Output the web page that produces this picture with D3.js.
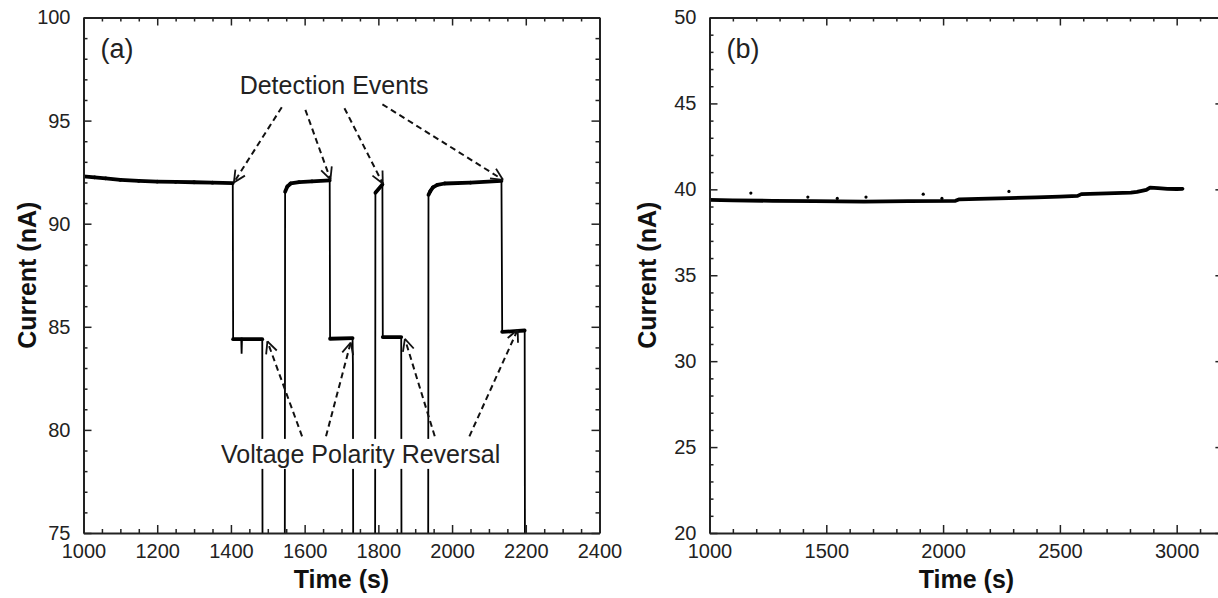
<!DOCTYPE html>
<html>
<head>
<meta charset="utf-8">
<script src="https://cdn.jsdelivr.net/npm/d3@7"></script>
<style>
  body { margin: 0; background: #fff; }
  svg { display: block; font-family: 'Liberation Sans', Arial, sans-serif; }
  .axis path { stroke: #222; stroke-width: 2; }
  .axis line { stroke: #222; stroke-width: 1.5; }
  .axis text { font-size: 20px; fill: #222; font-family: 'Liberation Sans', Arial, sans-serif; }
  .title { font-size: 25px; font-weight: bold; fill: #111; }
  .note { font-size: 25px; fill: #222; }
</style>
</head>
<body>
<svg id="fig" width="1218" height="598"></svg>
<script>
// panel (a): [time (s), current (nA)], 70 = trace runs off the bottom
var traceA = [
  [1000, 92.30], [1030, 92.25], [1060, 92.20], [1100, 92.13], [1150, 92.08],
  [1200, 92.04], [1250, 92.03], [1300, 92.01], [1350, 91.99], [1405, 91.97],
  [1406, 84.40], [1428, 84.40], [1429, 83.70], [1430, 84.40], [1485, 84.40], [1486, 70],
  [1546, 70], [1547, 91.55], [1553, 91.80], [1562, 91.95], [1585, 92.02], [1620, 92.05], [1668, 92.10],
  [1669, 84.42], [1730, 84.45], [1731, 83.20], [1732, 70],
  [1791, 70], [1792, 91.50], [1811, 91.90],
  [1812, 84.50], [1862, 84.50], [1863, 70],
  [1935, 70], [1936, 91.40], [1941, 91.58], [1948, 91.76], [1960, 91.88], [1980, 91.95],
  [2050, 91.99], [2134, 92.08],
  [2136, 84.75], [2197, 84.82], [2198, 70]
];

// panel (b)
var traceB = [
  [1000, 39.39], [1100, 39.36], [1270, 39.33], [1450, 39.31], [1661, 39.29],
  [1850, 39.31], [2053, 39.33], [2070, 39.42], [2150, 39.45], [2282, 39.49],
  [2400, 39.53], [2500, 39.57], [2576, 39.62], [2592, 39.72], [2700, 39.76],
  [2804, 39.81], [2830, 39.85], [2870, 39.97], [2886, 40.10], [2920, 40.07],
  [2960, 40.03], [3000, 40.02], [3025, 40.03]
];
var spotsB = [[1177, 39.78], [1421, 39.55], [1547, 39.47], [1670, 39.55],
  [1915, 39.72], [1995, 39.47], [2282, 39.88]];

// annotation arrows, [time, current] of tail and tip
var detectArrows = [
  {from: [1538, 95.65], to: [1408, 92.00]},
  {from: [1602, 95.52], to: [1670, 92.15]},
  {from: [1708, 95.60], to: [1812, 91.95]},
  {from: [1811, 95.79], to: [2138, 92.13]}
];
var reverseArrows = [
  {from: [1593, 79.69], to: [1499, 84.29]},
  {from: [1658, 79.69], to: [1725, 84.24]},
  {from: [1953, 79.69], to: [1872, 84.41]},
  {from: [2047, 79.69], to: [2178, 84.86]}
];
var detectLabel = {text: 'Detection Events', at: [1680, 96.28]};
var reverseLabel = {text: 'Voltage Polarity Reversal', at: [1752, 78.4]};

var xTicksA = [1000, 1200, 1400, 1600, 1800, 2000, 2200, 2400];
var yTicksA = [75, 80, 85, 90, 95, 100];
var xTicksB = [1000, 1500, 2000, 2500, 3000];
var yTicksB = [20, 25, 30, 35, 40, 45, 50];

var figure = {
  svg: d3.select('#fig'),

  init: function() {
    var self = this;

    var a = self.panel({
      id: 'a', left: 83.5, right: 599.5, top: 17.5, bottom: 533,
      xDomain: [1000, 2400], yDomain: [75, 100],
      xTicks: xTicksA, yTicks: yTicksA, xMinor: 50, yMinor: 1,
      ytitleX: 36
    });
    self.drawTraceA(a);
    self.drawNotes(a);

    var b = self.panel({
      id: 'b', left: 709.5, right: 1223.4, top: 17.5, bottom: 533,
      xDomain: [1000, 3200], yDomain: [20, 50],
      xTicks: xTicksB, yTicks: yTicksB, xMinor: 100, yMinor: 1,
      ytitleX: 656
    });
    self.drawTraceB(b);
  },

  panel: function(o) {
    var self = this;
    var w = o.right - o.left, h = o.bottom - o.top;
    var x = d3.scaleLinear().domain(o.xDomain).range([0, w]);
    var y = d3.scaleLinear().domain(o.yDomain).range([h, 0]);

    var g = self.svg.append('g')
        .attr('transform', 'translate(' + o.left + ',' + o.top + ')');

    g.append('clipPath').attr('id', 'clip-' + o.id)
      .append('rect').attr('width', w).attr('height', h);

    var plot = g.append('g').attr('clip-path', 'url(#clip-' + o.id + ')');
    var over = g.append('g');
    var axes = g.append('g');

    var xMinor = d3.range(o.xDomain[0], o.xDomain[1] + 1e-6, o.xMinor)
        .filter(function(v) { return o.xTicks.indexOf(v) < 0; });
    var yMinor = d3.range(o.yDomain[0], o.yDomain[1] + 1e-6, o.yMinor)
        .filter(function(v) { return o.yTicks.indexOf(v) < 0; });
    var xMajor = d3.range(o.xDomain[0], o.xDomain[1] + 1e-6, o.xTicks[1] - o.xTicks[0]);

    var noDomain = function(s) { s.select('.domain').remove(); };

    // bottom
    axes.append('g').attr('class', 'axis').attr('transform', 'translate(0,' + h + ')')
      .call(d3.axisBottom(x).tickValues(o.xTicks).tickSizeInner(-8).tickSizeOuter(0)
        .tickPadding(11).tickFormat(d3.format('d')));
    axes.append('g').attr('class', 'axis').attr('transform', 'translate(0,' + h + ')')
      .call(d3.axisBottom(x).tickValues(xMinor).tickSize(-4).tickFormat(''))
      .call(noDomain);
    // top
    axes.append('g').attr('class', 'axis')
      .call(d3.axisTop(x).tickValues(xMajor).tickSizeInner(-8).tickSizeOuter(0).tickFormat(''));
    axes.append('g').attr('class', 'axis')
      .call(d3.axisTop(x).tickValues(xMinor).tickSize(-4).tickFormat(''))
      .call(noDomain);
    // left
    axes.append('g').attr('class', 'axis')
      .call(d3.axisLeft(y).tickValues(o.yTicks).tickSizeInner(-8).tickSizeOuter(0)
        .tickPadding(13).tickFormat(d3.format('d')));
    axes.append('g').attr('class', 'axis')
      .call(d3.axisLeft(y).tickValues(yMinor).tickSize(-4).tickFormat(''))
      .call(noDomain);
    // right
    axes.append('g').attr('class', 'axis').attr('transform', 'translate(' + w + ',0)')
      .call(d3.axisRight(y).tickValues(o.yTicks).tickSizeInner(-8).tickSizeOuter(0).tickFormat(''));
    axes.append('g').attr('class', 'axis').attr('transform', 'translate(' + w + ',0)')
      .call(d3.axisRight(y).tickValues(yMinor).tickSize(-4).tickFormat(''))
      .call(noDomain);

    // titles
    self.svg.append('text').attr('class', 'title')
      .attr('x', o.left + w / 2).attr('y', o.bottom + 55)
      .attr('text-anchor', 'middle')
      .text('Time (s)');
    self.svg.append('text').attr('class', 'title')
      .attr('transform', 'translate(' + o.ytitleX + ',' + (o.top + h / 2) + ') rotate(-90)')
      .attr('text-anchor', 'middle')
      .text('Current (nA)');
    g.append('text').attr('class', 'note')
      .attr('x', 17).attr('y', 40)
      .style('font-size', '27px')
      .text('(' + o.id + ')');

    return {x: x, y: y, plot: plot, over: over};
  },

  drawTraceA: function(p) {
    var line = d3.line()
        .x(function(d) { return p.x(d[0]); })
        .y(function(d) { return p.y(d[1]); });

    p.plot.append('path')
      .datum(traceA)
      .attr('d', line)
      .attr('fill', 'none')
      .attr('stroke', '#000')
      .attr('stroke-width', 1.8);

    // the flat, noisy stretches read thicker
    var flat = d3.pairs(traceA).filter(function(s) {
      return Math.abs(s[1][1] - s[0][1]) < 0.5;
    });
    p.plot.selectAll('.flat')
      .data(flat)
      .enter().append('path')
      .attr('class', 'flat')
      .attr('d', line)
      .attr('fill', 'none')
      .attr('stroke', '#000')
      .attr('stroke-width', 3.8)
      .attr('stroke-linecap', 'round');
  },

  drawArrows: function(p, list) {
    var grp = p.over.append('g');
    list.forEach(function(a) {
      var x0 = p.x(a.from[0]), y0 = p.y(a.from[1]);
      var x1 = p.x(a.to[0]), y1 = p.y(a.to[1]);
      var ang = Math.atan2(y1 - y0, x1 - x0);
      grp.append('line')
        .attr('x1', x0).attr('y1', y0).attr('x2', x1).attr('y2', y1)
        .attr('stroke', '#111').attr('stroke-width', 2)
        .attr('stroke-dasharray', '6,4');
      [-0.45, 0.45].forEach(function(da) {
        grp.append('line')
          .attr('x1', x1).attr('y1', y1)
          .attr('x2', x1 - 13 * Math.cos(ang + da))
          .attr('y2', y1 - 13 * Math.sin(ang + da))
          .attr('stroke', '#111').attr('stroke-width', 1.8);
      });
    });
  },

  drawNotes: function(p) {
    var self = this;
    self.drawArrows(p, detectArrows);
    self.drawArrows(p, reverseArrows);

    p.over.append('text').attr('class', 'note')
      .attr('x', p.x(detectLabel.at[0])).attr('y', p.y(detectLabel.at[1]))
      .attr('text-anchor', 'middle')
      .text(detectLabel.text);

    var box = p.over.append('rect').attr('fill', '#fff');
    var t = p.over.append('text').attr('class', 'note')
      .attr('x', p.x(reverseLabel.at[0])).attr('y', p.y(reverseLabel.at[1]))
      .attr('text-anchor', 'middle')
      .text(reverseLabel.text);
    var bb = t.node().getBBox();
    box.attr('x', bb.x - 3).attr('y', bb.y - 1)
      .attr('width', bb.width + 6).attr('height', bb.height + 2);
  },

  drawTraceB: function(p) {
    var line = d3.line()
        .x(function(d) { return p.x(d[0]); })
        .y(function(d) { return p.y(d[1]); });

    p.plot.append('path')
      .datum(traceB)
      .attr('d', line)
      .attr('fill', 'none')
      .attr('stroke', '#000')
      .attr('stroke-width', 3.8)
      .attr('stroke-linejoin', 'round')
      .attr('stroke-linecap', 'round');

    p.plot.selectAll('.spot')
      .data(spotsB)
      .enter().append('circle')
      .attr('class', 'spot')
      .attr('cx', function(d) { return p.x(d[0]); })
      .attr('cy', function(d) { return p.y(d[1]); })
      .attr('r', 1.6)
      .attr('fill', '#000');
  }
};

figure.init();
</script>
</body>
</html>
